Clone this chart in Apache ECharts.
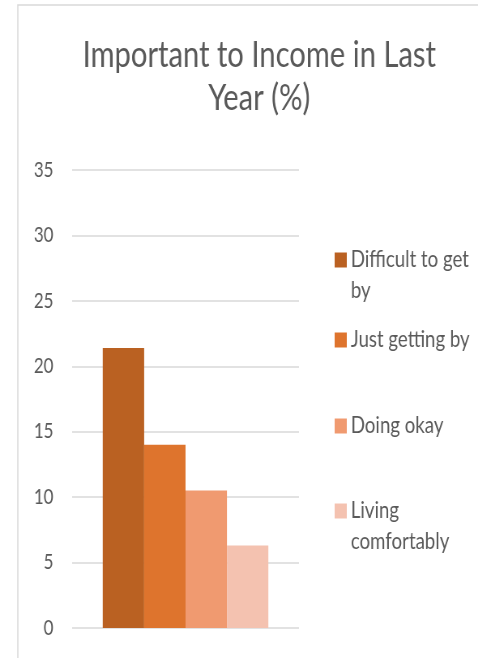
<!DOCTYPE html>
<html>
<head>
<meta charset="utf-8">
<script src="https://cdn.jsdelivr.net/npm/echarts@6/dist/echarts.min.js"></script>
<style>
  html, body { margin: 0; padding: 0; background: #fff; overflow: hidden; }
  /* the original chart is a horizontally squeezed office chart, so draw wide and squeeze */
  #chart { width: 590px; height: 658px; transform: scaleX(0.8102); transform-origin: 0 0; }
</style>
</head>
<body>
<div id="chart"></div>
<script>
  // data
  const seriesNames = ['Difficult to get by', 'Just getting by', 'Doing okay', 'Living comfortably'];
  const legendLines = ['Difficult to get\nby', 'Just getting by', 'Doing okay', 'Living\ncomfortably'];
  const seriesValues = [21.4, 14.0, 10.5, 6.3];
  const categories = [''];
  const yTicks = { min: 0, max: 35, step: 5 };

  const colors = ['#BA6122', '#DE742D', '#F09A70', '#F4C2B0'];
  const font = 'Lato, "Open Sans", sans-serif';
  const textGrey = '#595959';

  // vertical middle of each legend entry's first line
  const legendMid = [260, 340, 426, 511];
  const LH = 31;

  const chart = echarts.init(document.getElementById('chart'));

  const legends = seriesNames.map(function (name, i) {
    const twoLines = legendLines[i].indexOf('\n') >= 0;
    return {
      orient: 'vertical',
      left: 413,
      top: twoLines ? legendMid[i] - 1.5 * LH : legendMid[i] - LH / 2,
      padding: 0,
      itemWidth: 15,
      itemHeight: 15,
      itemGap: 0,
      icon: 'rect',
      selectedMode: false,
      data: [name],
      // leading empty line keeps the icon level with the first text line
      formatter: function () { return twoLines ? '\n' + legendLines[i] : legendLines[i]; },
      textStyle: {
        fontFamily: font,
        fontSize: 23,
        lineHeight: LH,
        color: textGrey
      }
    };
  });

  const option = {
    animation: false,
    color: colors,
    title: {
      text: 'Important to Income in Last\nYear (%)',
      left: 320,
      top: 34,
      textAlign: 'center',
      padding: 0,
      textStyle: {
        fontFamily: font,
        fontSize: 36,
        lineHeight: 43,
        fontWeight: 'normal',
        color: textGrey
      }
    },
    legend: legends,
    grid: {
      left: 89,
      right: 221,
      top: 170,
      bottom: 30,
      containLabel: false
    },
    xAxis: {
      type: 'category',
      data: categories,
      axisLine: { show: false },
      axisTick: { show: false },
      axisLabel: { show: false }
    },
    yAxis: {
      type: 'value',
      min: yTicks.min,
      max: yTicks.max,
      interval: yTicks.step,
      axisLine: { show: false },
      axisTick: { show: false },
      axisLabel: {
        margin: 23,
        fontFamily: font,
        fontSize: 21,
        color: textGrey
      },
      splitLine: { lineStyle: { color: '#D9D9D9', width: 1.5 } }
    },
    series: seriesNames.map(function (name, i) {
      return {
        name: name,
        type: 'bar',
        barGap: '0%',
        barCategoryGap: '27%',
        data: [seriesValues[i]]
      };
    }),
    graphic: [{
      type: 'rect',
      silent: true,
      z: -1,
      shape: { x: 22, y: 5, width: 700, height: 800 },
      style: { fill: 'none', stroke: '#D9D9D9', lineWidth: 1.5 }
    }]
  };

  chart.setOption(option);
</script>
</body>
</html>
